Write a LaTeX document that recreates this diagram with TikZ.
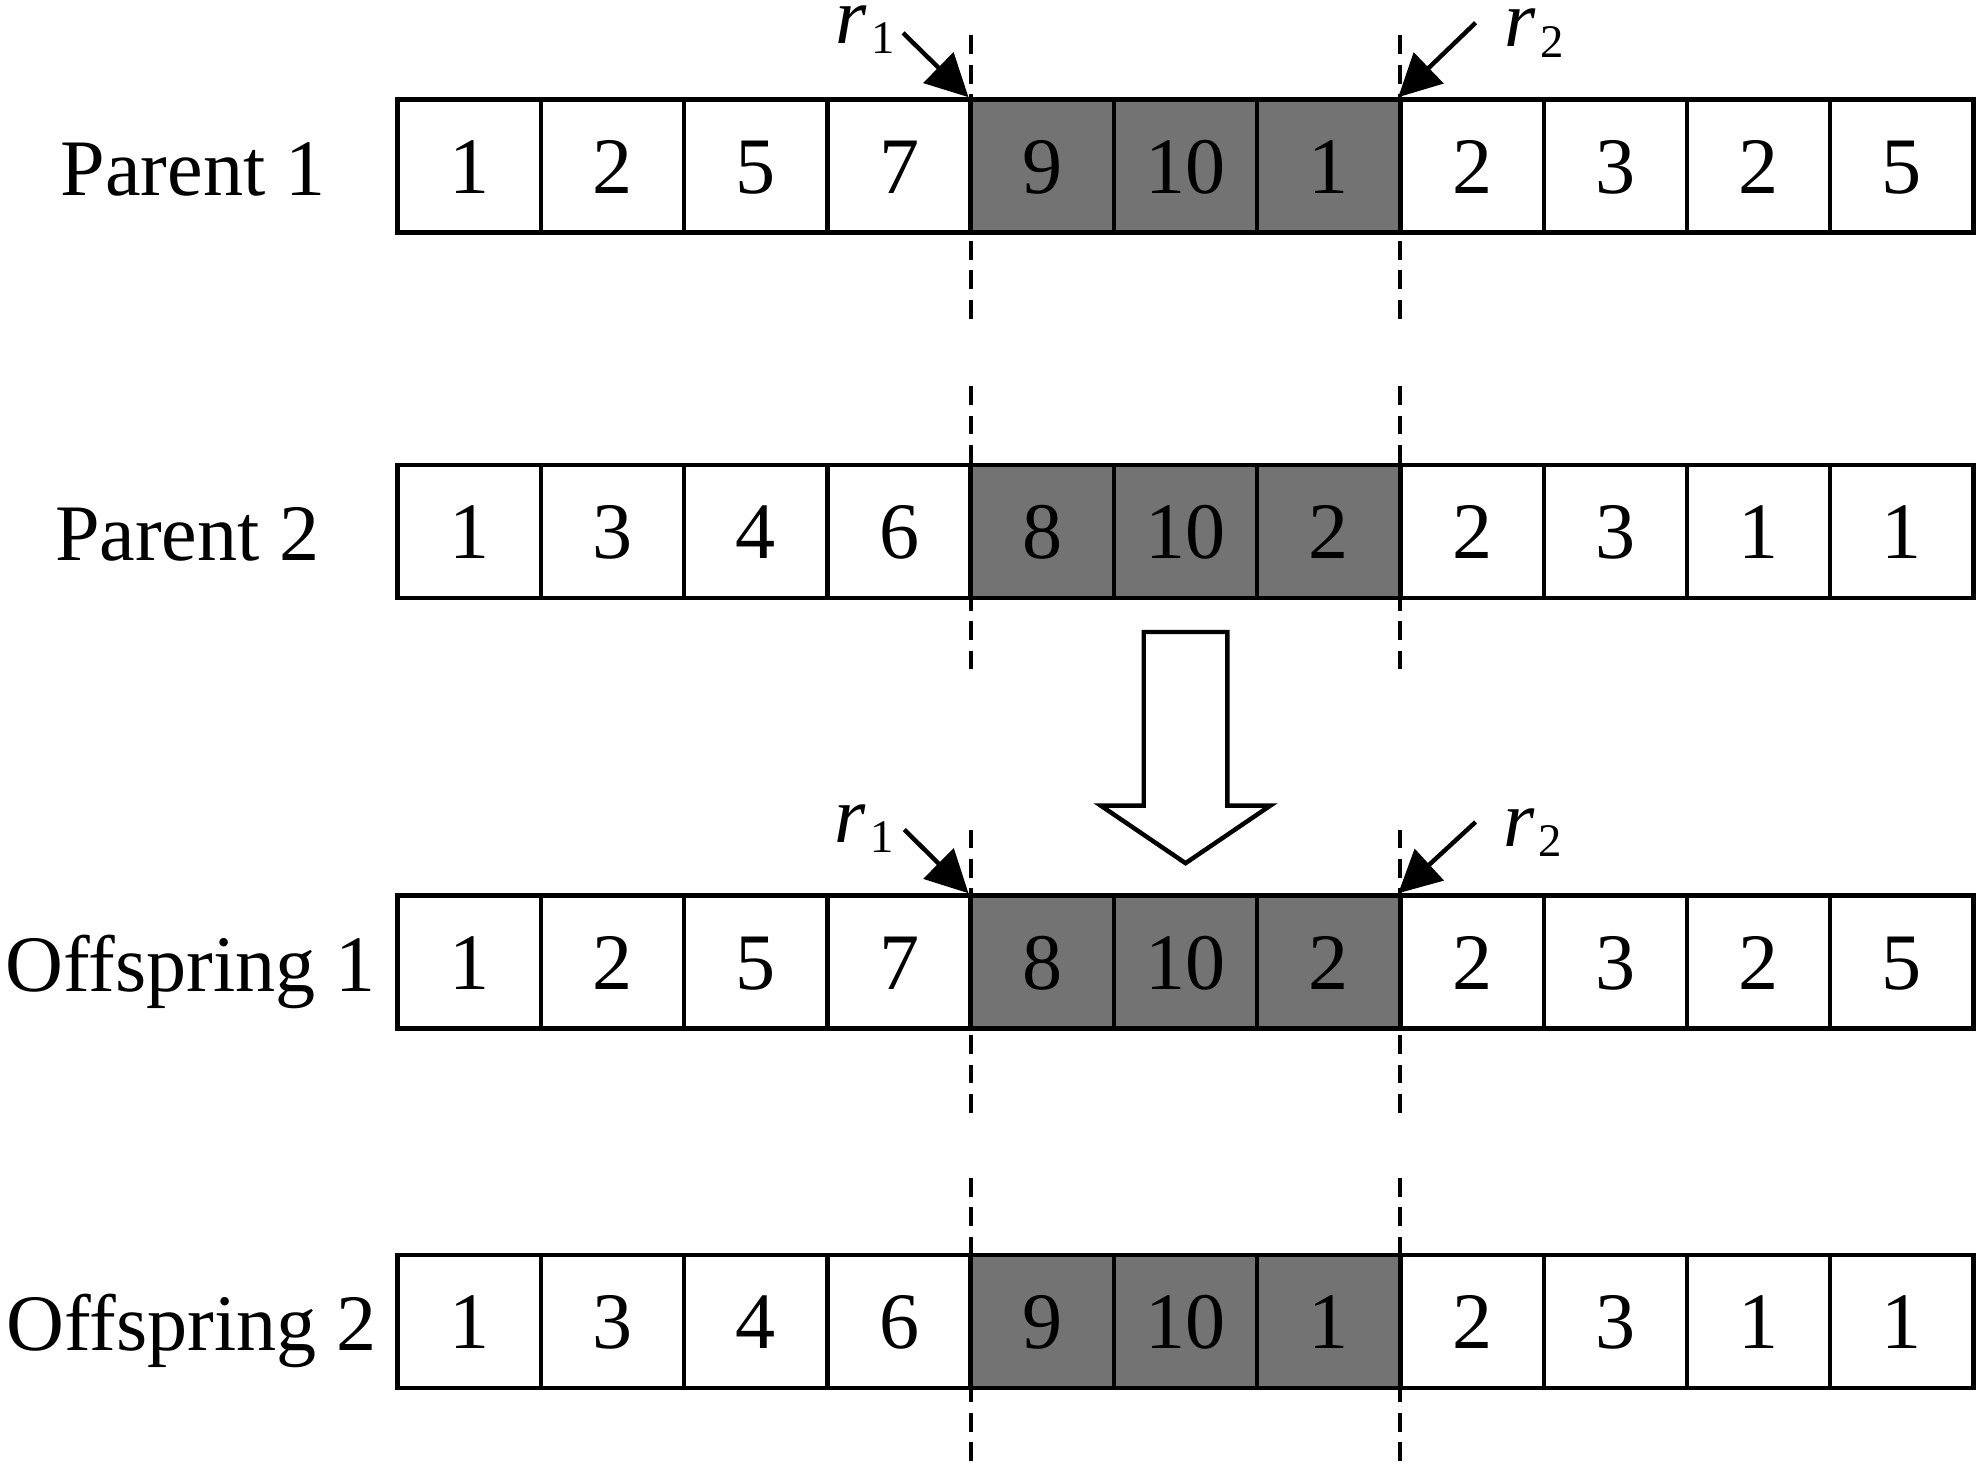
\documentclass[tikz,border=0pt]{standalone}
\usepackage{fontspec}
\setmainfont{Liberation Serif}
\usepackage{tikz}
\usetikzlibrary{arrows.meta}
\usetikzlibrary{positioning}
\tikzset{>={Triangle[length=9.5pt,width=9.5pt]}}
\definecolor{swapgray}{RGB}{115,115,115}
\tikzset{
    cell/.style={draw, line width=1pt, minimum width=1.131cm, minimum height=1.05cm, inner sep=0,
        text height=12.2pt, text depth=0pt, font=\fontsize{18}{21}\selectfont},
    guide/.style={line width=0.9pt, dash pattern=on 4.2pt off 2.4pt},
    rowlabel/.style={anchor=base, inner sep=0, font=\fontsize{18}{21}\selectfont},
    cutlabel/.style={anchor=base west, inner sep=0, font=\fontsize{18}{21}\selectfont},
    cutarrow/.style={->, line width=1pt},
}
\newcommand{\cutpt}[1]{\textit{r}\kern1pt\raisebox{-2.3pt}{\fontsize{10.5}{12}\selectfont #1}}

\begin{document}
\begin{tikzpicture}
	\useasboundingbox (0,0) rectangle (15.68,-11.64);
	% cut points
	\foreach \c in {4,7} {
		\draw[guide] ({3.14+1.131*\c},-0.28) -- ({3.14+1.131*\c},-2.545);
		\draw[guide] ({3.14+1.131*\c},-3.05) -- ({3.14+1.131*\c},-5.35);
		\draw[guide] ({3.14+1.131*\c},-6.55) -- ({3.14+1.131*\c},-8.85);
		\draw[guide] ({3.14+1.131*\c},-9.30) -- ({3.14+1.131*\c},-11.60);
	}
	% chromosomes
	\foreach \v [count=\i] in {1,2,5,7,9,10,1,2,3,2,5} {
		\def\fc{white}\ifnum\i>4 \ifnum\i<8 \def\fc{swapgray}\fi\fi
		\node[cell, fill=\fc] (p1c\i) at ({3.14+1.131*(\i-0.5)},-1.31) {\v};
	}
	\foreach \v [count=\i] in {1,3,4,6,8,10,2,2,3,1,1} {
		\def\fc{white}\ifnum\i>4 \ifnum\i<8 \def\fc{swapgray}\fi\fi
		\node[cell, fill=\fc] (p2c\i) at ({3.14+1.131*(\i-0.5)},-4.195) {\v};
	}
	\foreach \v [count=\i] in {1,2,5,7,8,10,2,2,3,2,5} {
		\def\fc{white}\ifnum\i>4 \ifnum\i<8 \def\fc{swapgray}\fi\fi
		\node[cell, fill=\fc] (o1c\i) at ({3.14+1.131*(\i-0.5)},-7.595) {\v};
	}
	\foreach \v [count=\i] in {1,3,4,6,9,10,1,2,3,1,1} {
		\def\fc{white}\ifnum\i>4 \ifnum\i<8 \def\fc{swapgray}\fi\fi
		\node[cell, fill=\fc] (o2c\i) at ({3.14+1.131*(\i-0.5)},-10.435) {\v};
	}
	\node[rowlabel] (lp1) at (1.525,-1.54) {Parent 1};
	\node[rowlabel] (lp2) at (1.48,-4.425) {Parent 2};
	\node[rowlabel] (lo1) at (1.505,-7.825) {Offspring 1};
	\node[rowlabel] (lo2) at (1.515,-10.665) {Offspring 2};
	% r1, r2 markers
	\coordinate (ta1) at (7.13,-0.26);
	\coordinate (ta2) at (11.65,-0.18);
	\coordinate (tb1) at (7.14,-6.55);
	\coordinate (tb2) at (11.65,-6.49);
	\draw[cutarrow] (ta1) -- (p1c5.north west);
	\draw[cutarrow] (ta2) -- (p1c8.north west);
	\draw[cutarrow] (tb1) -- (o1c5.north west);
	\draw[cutarrow] (tb2) -- (o1c8.north west);
	\node[cutlabel] (ra1) at (6.59,-0.34) {\cutpt{1}};
	\node[cutlabel] (ra2) at (11.87,-0.37) {\cutpt{2}};
	\node[cutlabel] (rb1) at (6.58,-6.65) {\cutpt{1}};
	\node[cutlabel] (rb2) at (11.86,-6.68) {\cutpt{2}};
	% crossover
	\draw[line width=1pt, fill=white] (9.03,-4.99) -- (9.69,-4.99) -- (9.69,-6.36) -- (10.03,-6.36)
		-- (9.36,-6.815) -- (8.69,-6.36) -- (9.03,-6.36) -- cycle;
\end{tikzpicture}
\end{document}
